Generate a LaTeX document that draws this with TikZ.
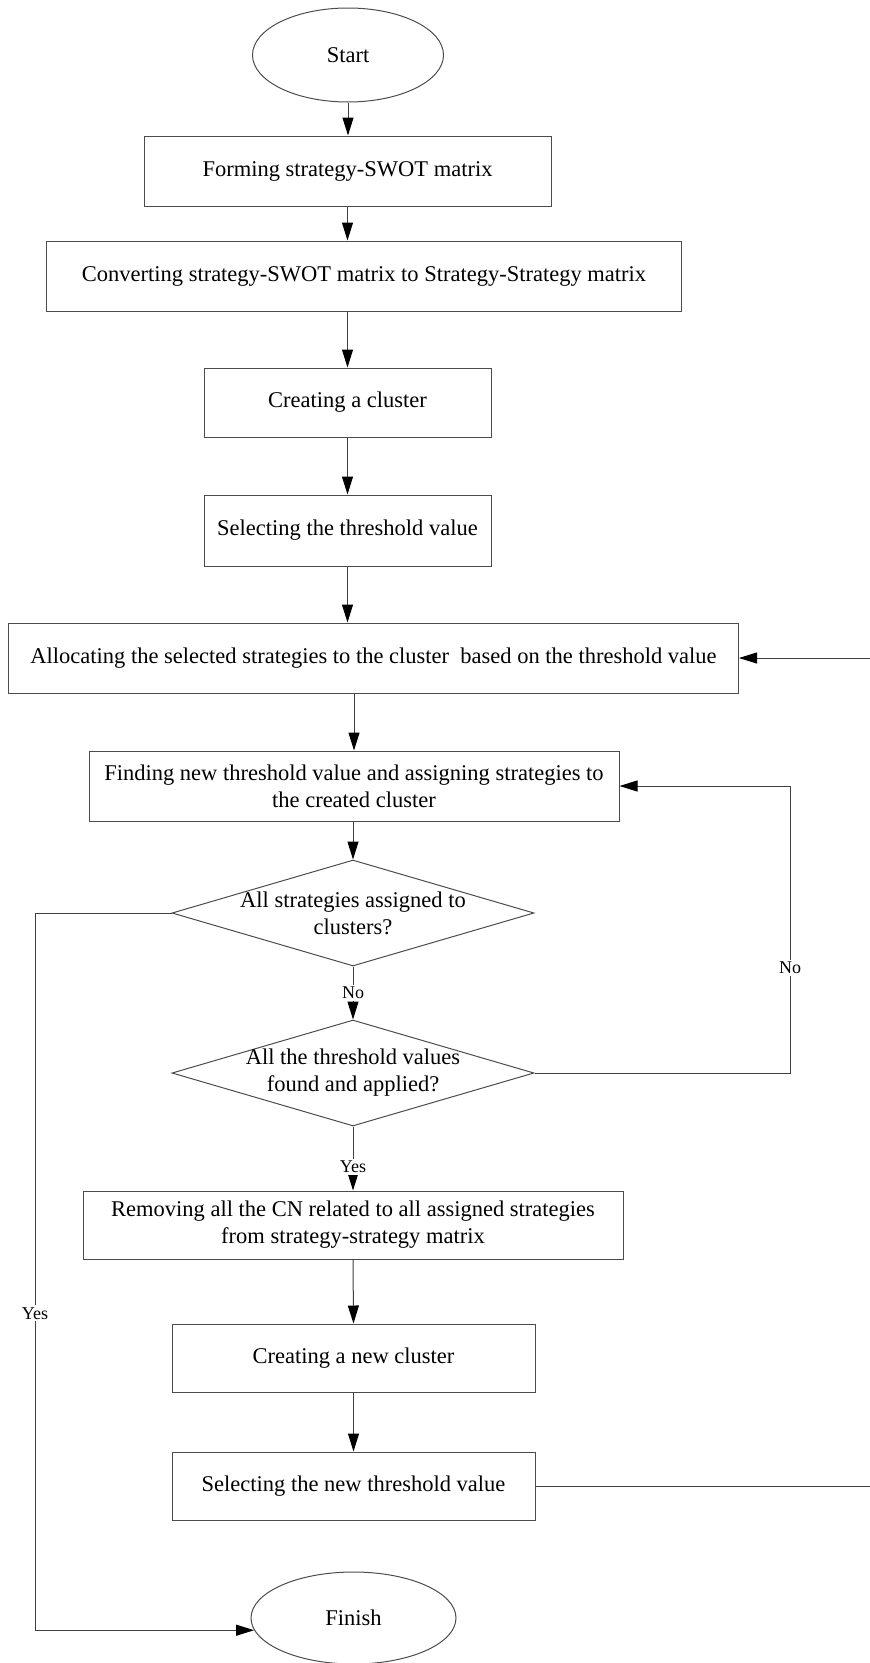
\documentclass[tikz,border=0pt]{standalone}
\usepackage{fontspec}
\setmainfont{Liberation Serif}
\usetikzlibrary{shapes.geometric,arrows.meta}
\begin{document}
\begin{tikzpicture}[x=1pt,y=-1pt,
  txt/.style={font=\fontsize{22.5}{27}\selectfont},
  box/.style={txt, draw=black!70, line width=1pt, rectangle, inner sep=0pt, align=center},
  term/.style={txt, draw=black!70, line width=1pt, ellipse, inner sep=0pt},
  dec/.style={draw=black!70, line width=1pt, diamond, inner sep=0pt},
  dtext/.style={txt, align=center, inner sep=0pt},
  lab/.style={fill=white, inner sep=2pt, font=\fontsize{18}{20}\selectfont},
  ln/.style={draw=black!75, line width=1pt},
  arr/.style={ln, -{Triangle[length=18pt,width=11pt,color=black]}}]
\useasboundingbox (0,0) rectangle (870,1663);

\node[term, minimum width=191pt, minimum height=94pt] (start) at (348,55) {Start};
\node[box, minimum width=407pt, minimum height=70pt] (b1) at (347.5,171) {Forming strategy-SWOT matrix};
\node[box, minimum width=635pt, minimum height=70pt] (b2) at (364,276) {Converting strategy-SWOT matrix to Strategy-Strategy matrix};
\node[box, minimum width=287pt, minimum height=69pt] (b3) at (347.5,402.5) {Creating a cluster};
\node[box, minimum width=287pt, minimum height=71pt] (b4) at (347.5,530.5) {Selecting the threshold value};
\node[box, minimum width=730pt, minimum height=70pt] (b5) at (373.5,658) {Allocating the selected strategies to the cluster\ \ based on the threshold value};
\node[box, minimum width=530pt, minimum height=70pt] (b6) at (354,786) {Finding new threshold value and assigning strategies to\\the created cluster};
\node[dec, minimum width=362pt, minimum height=106pt] (d1) at (353,913) {};
\node[dtext] (d1t) at (d1) {All strategies assigned to\\clusters?};
\node[dec, minimum width=362pt, minimum height=106pt] (d2) at (353,1073) {};
\node[dtext] (d2t) at (d2) {All the threshold values\\found and applied?};
\node[box, minimum width=540pt, minimum height=68pt] (b7) at (353,1225) {Removing all the CN related to all assigned strategies\\from strategy-strategy matrix};
\node[box, minimum width=363pt, minimum height=68pt] (b8) at (353.5,1358) {Creating a new cluster};
\node[box, minimum width=363pt, minimum height=68pt] (b9) at (353.5,1486) {Selecting the new threshold value};
\node[term, minimum width=205pt, minimum height=92pt] (fin) at (353.5,1618) {Finish};

\coordinate (yl) at (35,0);
\coordinate (nr) at (790,0);
\coordinate (rr) at (873,0);

\draw[arr] (start.south) -- (start.south |- b1.north);
\draw[arr] (b1.south) -- (b1.south |- b2.north);
\draw[arr] (b3.north |- b2.south) -- (b3.north);
\draw[arr] (b3.south) -- (b4.north);
\draw[arr] (b4.south) -- (b4.south |- b5.north);
\draw[arr] (b6.north |- b5.south) -- (b6.north);
\draw[arr] (d1.north |- b6.south) -- (d1.north);
\draw[arr] (d1.south) -- node[lab] (lno1) {No} (d2.north);
\draw[arr] (d2.south) -- node[lab, pos=.63] (lyes1) {Yes} (d2.south |- b7.north);
\draw[arr] (b7.south) -- (b8.north);
\draw[arr] (b8.south) -- (b9.north);

\draw[arr] (d2.east) -- (d2.east -| nr) -- node[lab, pos=.366] (lno2) {No} (nr |- b6.east) -- (b6.east);
\draw[arr] (d1.west) -- (d1.west -| yl) -- node[lab, pos=.558] (lyes2) {Yes} (yl |- fin.187) -- (fin.187);
\draw[arr] (b9.east) -- (b9.east -| rr) -- (rr |- b5.east) -- (b5.east);
\end{tikzpicture}
\end{document}
